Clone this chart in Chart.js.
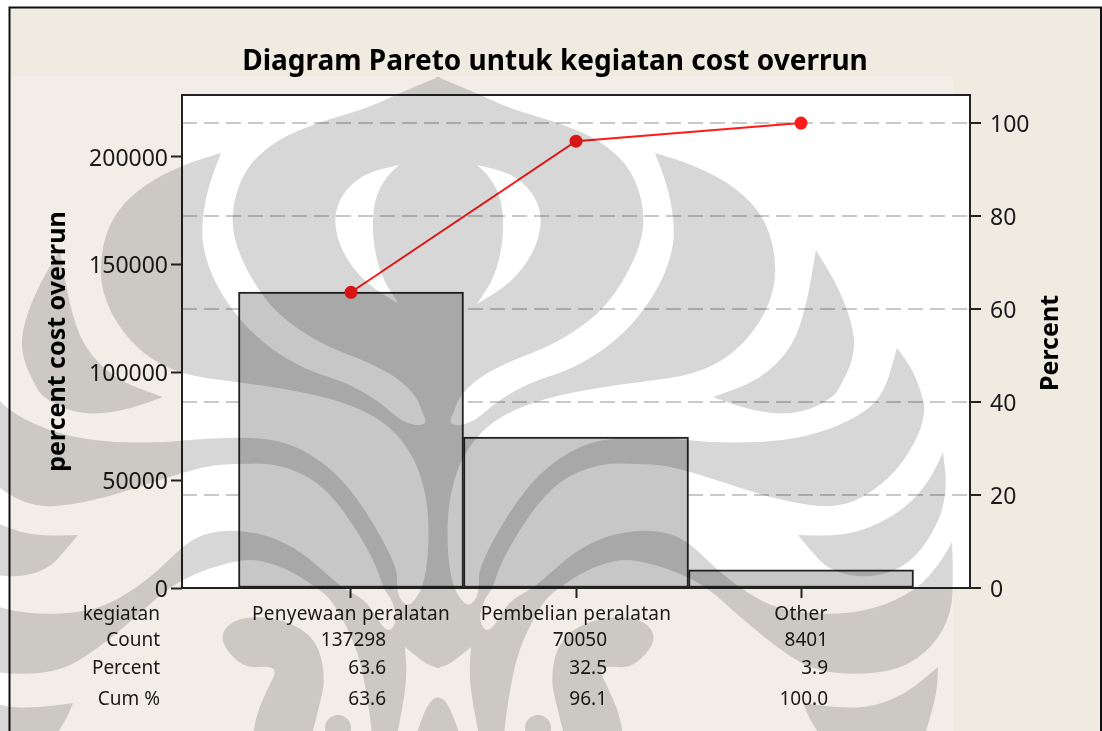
<!DOCTYPE html>
<html>
<head>
<meta charset="utf-8">
<title>Diagram Pareto</title>
<script src="https://cdn.jsdelivr.net/npm/chart.js@4"></script>
<style>
    html, body { margin: 0; padding: 0; background: #fff; }
    canvas { display: block; }
</style>
</head>
<body>
<canvas id="paretoChart" width="1102" height="731"></canvas>
<script>
// Chart data
const categories = ['Penyewaan peralatan', 'Pembelian peralatan', 'Other'];
const counts = [137298, 70050, 8401];
const percents = [63.6, 32.5, 3.9];
const cumPercents = [63.6, 96.1, 100.0];
const leftTicks = [0, 50000, 100000, 150000, 200000];
const rightTicks = [0, 20, 40, 60, 80, 100];
const rowLabels = ['kegiatan', 'Count', 'Percent', 'Cum %'];

const fontName = '"Noto Sans", sans-serif';
const rowY = [615, 641, 669, 700];
const numberOffsets = [35, 31, 27];

// Background emblem outlines, left half is mirrored around x = 438.
// A point written twice is a sharp corner.
const emblemMain = [[438,77],[438,77],[400,93],[365,109],[319,122],[276,140],[243,170],[230,217],[239,257],[269,307],[309,337],[343,353],[363,360],[397,377],[417,397],[422,412],[427,422],[420,426],[407,423],[398,418],[377,400],[347,383],[313,372],[288,360],[262,342],[238,318],[217,287],[205,257],[201,230],[207,190],[221,153],[221,153],[182,165],[140,187],[109,220],[98,270],[109,313],[140,353],[182,375],[237,382],[280,388],[330,398],[370,413],[397,433],[417,463],[427,500],[429,533],[427,567],[422,588],[415,600],[408,606],[400,600],[397,588],[397,567],[370,517],[343,480],[313,455],[280,440],[240,437],[186,440],[169,442],[119,443],[69,437],[23,420],[-7,397],[-21,348],[-21,348],[-37,370],[-47,398],[-49,410],[-44,433],[-24,467],[1,490],[29,505],[59,507],[109,497],[159,480],[209,465],[240,464],[270,463],[303,473],[330,493],[357,530],[377,567],[383,588],[392,600],[397,618],[392,630],[385,630],[375,615],[365,600],[343,588],[330,577],[303,553],[273,537],[240,530],[209,532],[186,543],[159,570],[129,593],[96,610],[49,615],[3,610],[-41,590],[-64,563],[-76,542],[-76,542],[-77,570],[-76,613],[-57,647],[-24,670],[23,675],[63,670],[96,650],[136,617],[169,587],[203,570],[240,560],[260,560],[290,570],[317,588],[332,600],[350,633],[360,660],[368,700],[372,735],[372,735],[397,735],[397,735],[402,710],[407,677],[405,647],[405,647],[427,665],[440,668],[440,668],[440,77],[440,77]];
const emblemLeaves = [
    [[816,250],[816,250],[840,290],[855,333],[853,360],[840,387],[833,397],[810,410],[780,415],[743,408],[713,397],[713,397],[760,380],[793,347],[807,303]],
    [[943,452],[943,452],[947,487],[940,520],[917,557],[887,575],[853,577],[827,568],[813,553],[798,535],[798,535],[840,536],[873,527],[907,507],[930,480]],
    [[938,667],[938,667],[907,693],[873,707],[840,708],[803,703],[803,703],[810,720],[820,735],[820,735],[925,735],[925,735],[937,693]],
    [[220,637],[230,622],[253,616],[283,620],[307,632],[320,650],[325,680],[320,703],[312,735],[312,735],[253,735],[253,735],[257,713],[268,688],[277,670],[267,666],[247,668],[230,655]],
    [[417,735],[417,735],[427,705],[438,695],[449,705],[460,735],[460,735]]
];
const emblemCrescent = [[399,165],[399,165],[365,173],[342,193],[333,220],[342,253],[365,283],[399,304],[399,304],[381,277],[372,237],[374,200],[386,177]];

function fillOutline(ctx, points, mirror) {
    const pts = mirror ? points.map(p => [876 - p[0], p[1]]) : points;
    const n = pts.length;
    const mid = (a, b) => [(a[0] + b[0]) / 2, (a[1] + b[1]) / 2];
    const start = mid(pts[0], pts[1]);
    ctx.beginPath();
    ctx.moveTo(start[0], start[1]);
    for (let i = 1; i <= n; i++) {
        const p = pts[i % n];
        const m = mid(p, pts[(i + 1) % n]);
        ctx.quadraticCurveTo(p[0], p[1], m[0], m[1]);
    }
    ctx.closePath();
    ctx.fill();
}

// White sheet with the emblem on it, multiplied over the finished chart
function buildEmblem() {
    const sheet = document.createElement('canvas');
    sheet.width = 1102;
    sheet.height = 731;
    const c = sheet.getContext('2d');
    c.fillStyle = '#fff';
    c.fillRect(0, 0, 1102, 731);
    c.fillStyle = '#d7d7d7';
    [false, true].forEach(mirror => {
        fillOutline(c, emblemMain, mirror);
        emblemLeaves.forEach(leaf => fillOutline(c, leaf, mirror));
        const cx = mirror ? 876 - 338 : 338;
        c.beginPath();
        c.arc(cx, 728, 13, 0, Math.PI * 2);
        c.fill();
    });
    c.fillStyle = '#fff';
    fillOutline(c, emblemCrescent, false);
    fillOutline(c, emblemCrescent, true);
    c.fillRect(953, 0, 149, 731);
    return sheet;
}

const emblemSheet = buildEmblem();

const backgroundPlugin = {
    id: 'pageBackground',
    beforeDraw(chart) {
        const ctx = chart.ctx;
        const area = chart.chartArea;
        ctx.save();
        ctx.fillStyle = '#efebe1';
        ctx.fillRect(10, 8, 1090, 723);
        ctx.fillStyle = '#f2eee7';
        ctx.fillRect(10, 76, 943, 655);
        ctx.strokeStyle = '#111';
        ctx.lineWidth = 2;
        ctx.beginPath();
        ctx.moveTo(9.5, 731);
        ctx.lineTo(9.5, 7.5);
        ctx.lineTo(1101, 7.5);
        ctx.lineTo(1101, 731);
        ctx.stroke();
        ctx.fillStyle = '#fff';
        ctx.fillRect(area.left, area.top, area.width, area.height);
        ctx.restore();
    },
    beforeDatasetsDraw(chart) {
        const ctx = chart.ctx;
        const area = chart.chartArea;
        ctx.save();
        ctx.strokeStyle = '#222';
        ctx.lineWidth = 2;
        ctx.strokeRect(area.left, area.top, area.width, area.height);
        ctx.restore();
    },
    afterDraw(chart) {
        const ctx = chart.ctx;
        const xScale = chart.scales.x;
        ctx.save();
        ctx.fillStyle = '#1a1a1a';
        ctx.textBaseline = 'middle';
        ctx.font = '19px ' + fontName;

        // Table under the axis
        ctx.textAlign = 'right';
        rowLabels.forEach((label, i) => ctx.fillText(label, 160, rowY[i]));
        categories.forEach((name, i) => {
            const center = xScale.getPixelForValue(i + 1);
            const right = center + numberOffsets[i];
            ctx.textAlign = 'center';
            ctx.letterSpacing = '0.3px';
            ctx.fillText(name, center, rowY[0]);
            ctx.letterSpacing = '0px';
            ctx.textAlign = 'right';
            ctx.fillText(String(counts[i]), right, rowY[1]);
            ctx.fillText(percents[i].toFixed(1), right, rowY[2]);
            ctx.fillText(cumPercents[i].toFixed(1), right, rowY[3]);
        });

        // Chart.js turns a right axis title the other way, this one reads upwards
        ctx.translate(1051, 343);
        ctx.rotate(-Math.PI / 2);
        ctx.textAlign = 'center';
        ctx.fillStyle = '#000';
        ctx.font = 'bold 25px ' + fontName;
        ctx.fillText('Percent', 0, 0);
        ctx.restore();

        ctx.save();
        ctx.globalCompositeOperation = 'multiply';
        ctx.drawImage(emblemSheet, 0, 0);
        ctx.restore();
    }
};

new Chart(document.getElementById('paretoChart').getContext('2d'), {
    data: {
        datasets: [
            {
                type: 'line',
                label: 'Cum %',
                data: cumPercents.map((v, i) => ({ x: i + 1, y: v })),
                yAxisID: 'yRight',
                borderColor: '#ff1a1a',
                backgroundColor: '#ff1a1a',
                borderWidth: 2,
                pointRadius: 5.5,
                tension: 0,
                order: 1
            },
            {
                type: 'bar',
                label: 'Count',
                data: counts.map((v, i) => ({ x: i + 1, y: v })),
                yAxisID: 'yLeft',
                backgroundColor: '#c7c7c7',
                borderColor: '#222',
                borderWidth: 2,
                borderSkipped: false,
                categoryPercentage: 1,
                barPercentage: 1,
                order: 2
            }
        ]
    },
    options: {
        responsive: false,
        animation: false,
        layout: { padding: { left: 8, right: 0, top: 0, bottom: 0 } },
        plugins: {
            legend: { display: false },
            tooltip: { enabled: false },
            title: {
                display: true,
                text: 'Diagram Pareto untuk kegiatan cost overrun',
                color: '#000',
                font: { family: fontName, size: 28, weight: 'bold', lineHeight: 1.2 },
                padding: { top: 45, bottom: 16.4 }
            }
        },
        scales: {
            x: {
                type: 'linear',
                offset: false,
                min: 0.2489,
                max: 3.7511,
                afterBuildTicks: scale => { scale.ticks = categories.map((c, i) => ({ value: i + 1 })); },
                afterFit: scale => { scale.height = 143; },
                ticks: { display: false },
                border: { display: false },
                grid: { offset: false, drawOnChartArea: false, tickLength: 10, tickColor: '#222', tickWidth: 2 }
            },
            yLeft: {
                position: 'left',
                min: 0,
                max: 228770,
                afterBuildTicks: scale => { scale.ticks = leftTicks.map(v => ({ value: v })); },
                afterFit: scale => { scale.width = 174; },
                ticks: {
                    color: '#1a1a1a',
                    padding: 3,
                    labelOffset: 2,
                    font: { family: fontName, size: 23 },
                    callback: value => String(value)
                },
                border: { display: false },
                grid: { drawOnChartArea: false, tickLength: 11, tickColor: '#222', tickWidth: 2 },
                title: {
                    display: true,
                    text: 'percent cost overrun',
                    color: '#000',
                    font: { family: fontName, size: 25, weight: 'bold', lineHeight: 1.2 },
                    padding: { top: 35, bottom: 0 }
                }
            },
            yRight: {
                position: 'right',
                min: 0,
                max: 106.03,
                afterBuildTicks: scale => { scale.ticks = rightTicks.map(v => ({ value: v })); },
                afterFit: scale => { scale.width = 132; },
                ticks: {
                    color: '#1a1a1a',
                    padding: 9,
                    labelOffset: 2,
                    font: { family: fontName, size: 23 },
                    callback: value => String(value)
                },
                border: { display: false, dash: [15, 7] },
                grid: {
                    color: '#c9c9c9',
                    lineWidth: 2,
                    tickLength: 11,
                    tickColor: '#222',
                    tickWidth: 2,
                    tickBorderDash: []
                }
            }
        }
    },
    plugins: [backgroundPlugin]
});
</script>
</body>
</html>
